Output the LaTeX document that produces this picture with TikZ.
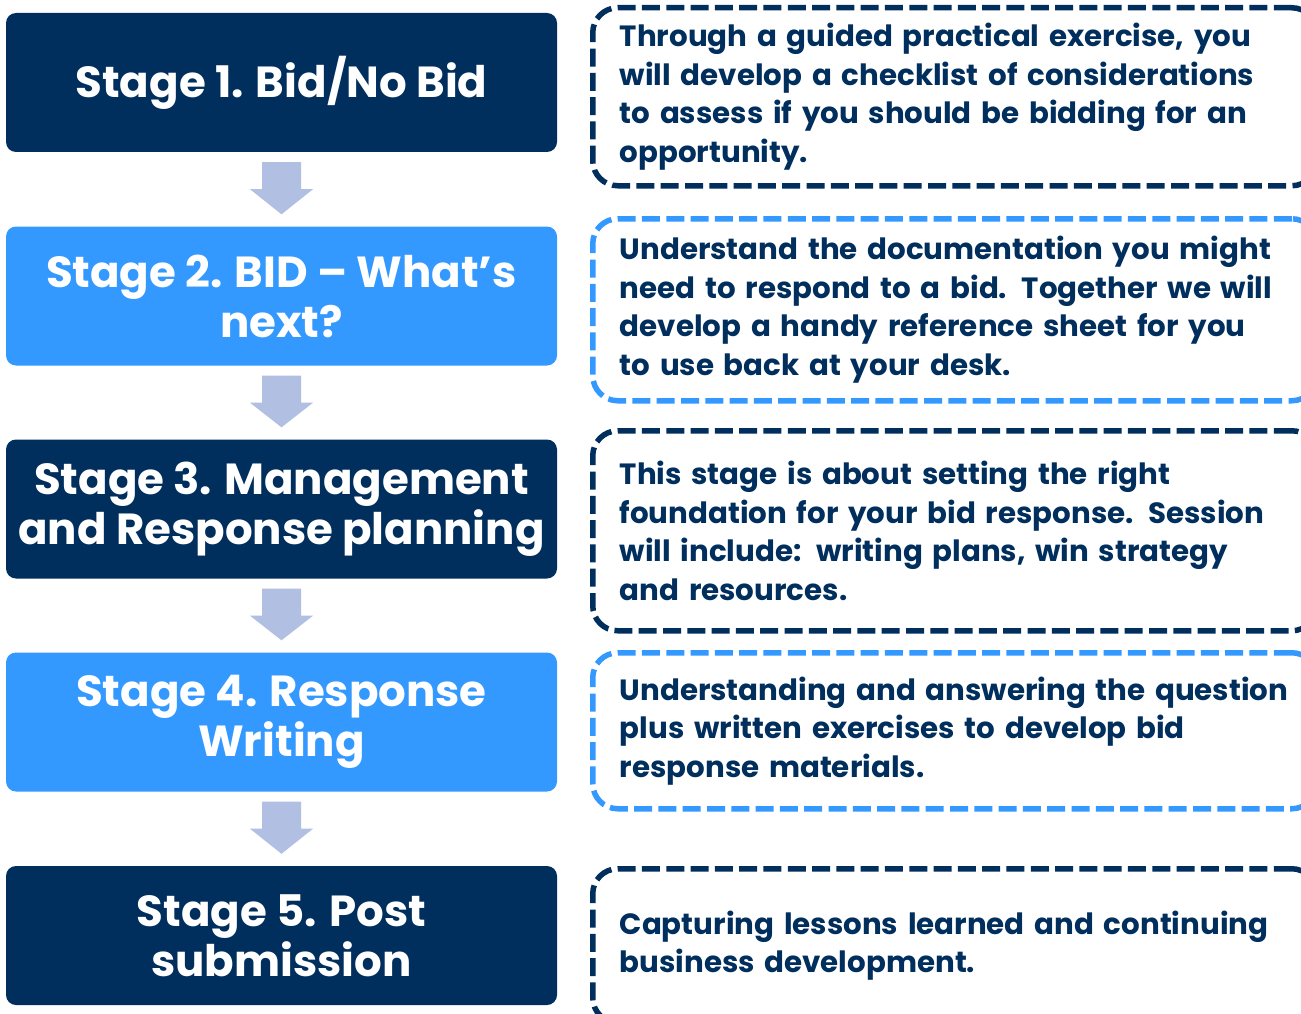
\documentclass[tikz,border=0pt]{standalone}
\usepackage{fontspec}
\setmainfont{Poppins}
\usetikzlibrary{calc}
\definecolor{navy}{HTML}{002E5D}
\definecolor{sky}{HTML}{3399FF}
\definecolor{arrowc}{HTML}{B1BFE2}
\begin{document}
\begin{tikzpicture}[x=1pt,y=-1pt,
  stagebox/.style={rounded corners=10pt, minimum width=551pt, minimum height=139pt,
    text=white, align=center, font=\fontsize{43.5}{50}\selectfont\bfseries, inner sep=0pt},
  darkstage/.style={stagebox, fill=navy},
  lightstage/.style={stagebox, fill=sky},
  notebox/.style={rounded corners=25pt, line width=5.5pt, dash pattern=on 18pt off 6.3pt,
    anchor=north west, minimum width=716pt, text width=670pt, inner xsep=27pt, inner ysep=0pt,
    align=left, text=navy, font=\fontsize{29.3}{38.5}\selectfont\bfseries},
  darknote/.style={notebox, draw=navy},
  lightnote/.style={notebox, draw=sky},
]
\useasboundingbox (0,0) rectangle (1301,1014);
\clip (0,0) rectangle (1301,1014);
\fill[white] (0,0) rectangle (1301,1014);

\node[darkstage]  (s1) at (281.5,82.5)  {Stage 1. Bid/No Bid};
\node[lightstage] (s2) at (281.5,296)   {Stage 2. BID – What’s\\next?};
\node[darkstage]  (s3) at (281.5,509)   {Stage 3. Management\\and Response planning};
\node[lightstage] (s4) at (281.5,722)   {Stage 4. Response\\Writing};
\node[darkstage]  (s5) at (281.5,935.5) {Stage 5. Post\\submission};

\foreach \a/\b in {s1/s2,s2/s3,s3/s4,s4/s5}{
  \fill[arrowc] ($(\a.south)+(-19.5,10)$) -- ($(\a.south)+(19.5,10)$)
    -- ($(\a.south)+(19.5,37)$) -- ($(\a.south)+(31.5,37)$)
    -- ($(\b.north)+(0,-12)$)
    -- ($(\a.south)+(-31.5,37)$) -- ($(\a.south)+(-19.5,37)$) -- cycle;
}

\node[darknote, minimum height=178pt] (d1) at (590,5)
  {Through a guided practical exercise, you\\will develop a checklist of considerations\\to assess if you should be bidding for an\\opportunity.};
\node[lightnote, minimum height=182pt] (d2) at (590,216)
  {Understand the documentation you might\\need to respond to a bid. Together we will\\develop a handy reference sheet for you\\to use back at your desk.};
\node[darknote, minimum height=200pt] (d3) at (590,428)
  {This stage is about setting the right\\foundation for your bid response. Session\\will include: writing plans, win strategy\\and resources.};
\node[lightnote, minimum height=156pt] (d4) at (590,650)
  {Understanding and answering the question\\plus written exercises to develop bid\\response materials.};
\node[darknote, minimum height=154pt] (d5) at (590,866)
  {Capturing lessons learned and continuing\\business development.};
\end{tikzpicture}
\end{document}
